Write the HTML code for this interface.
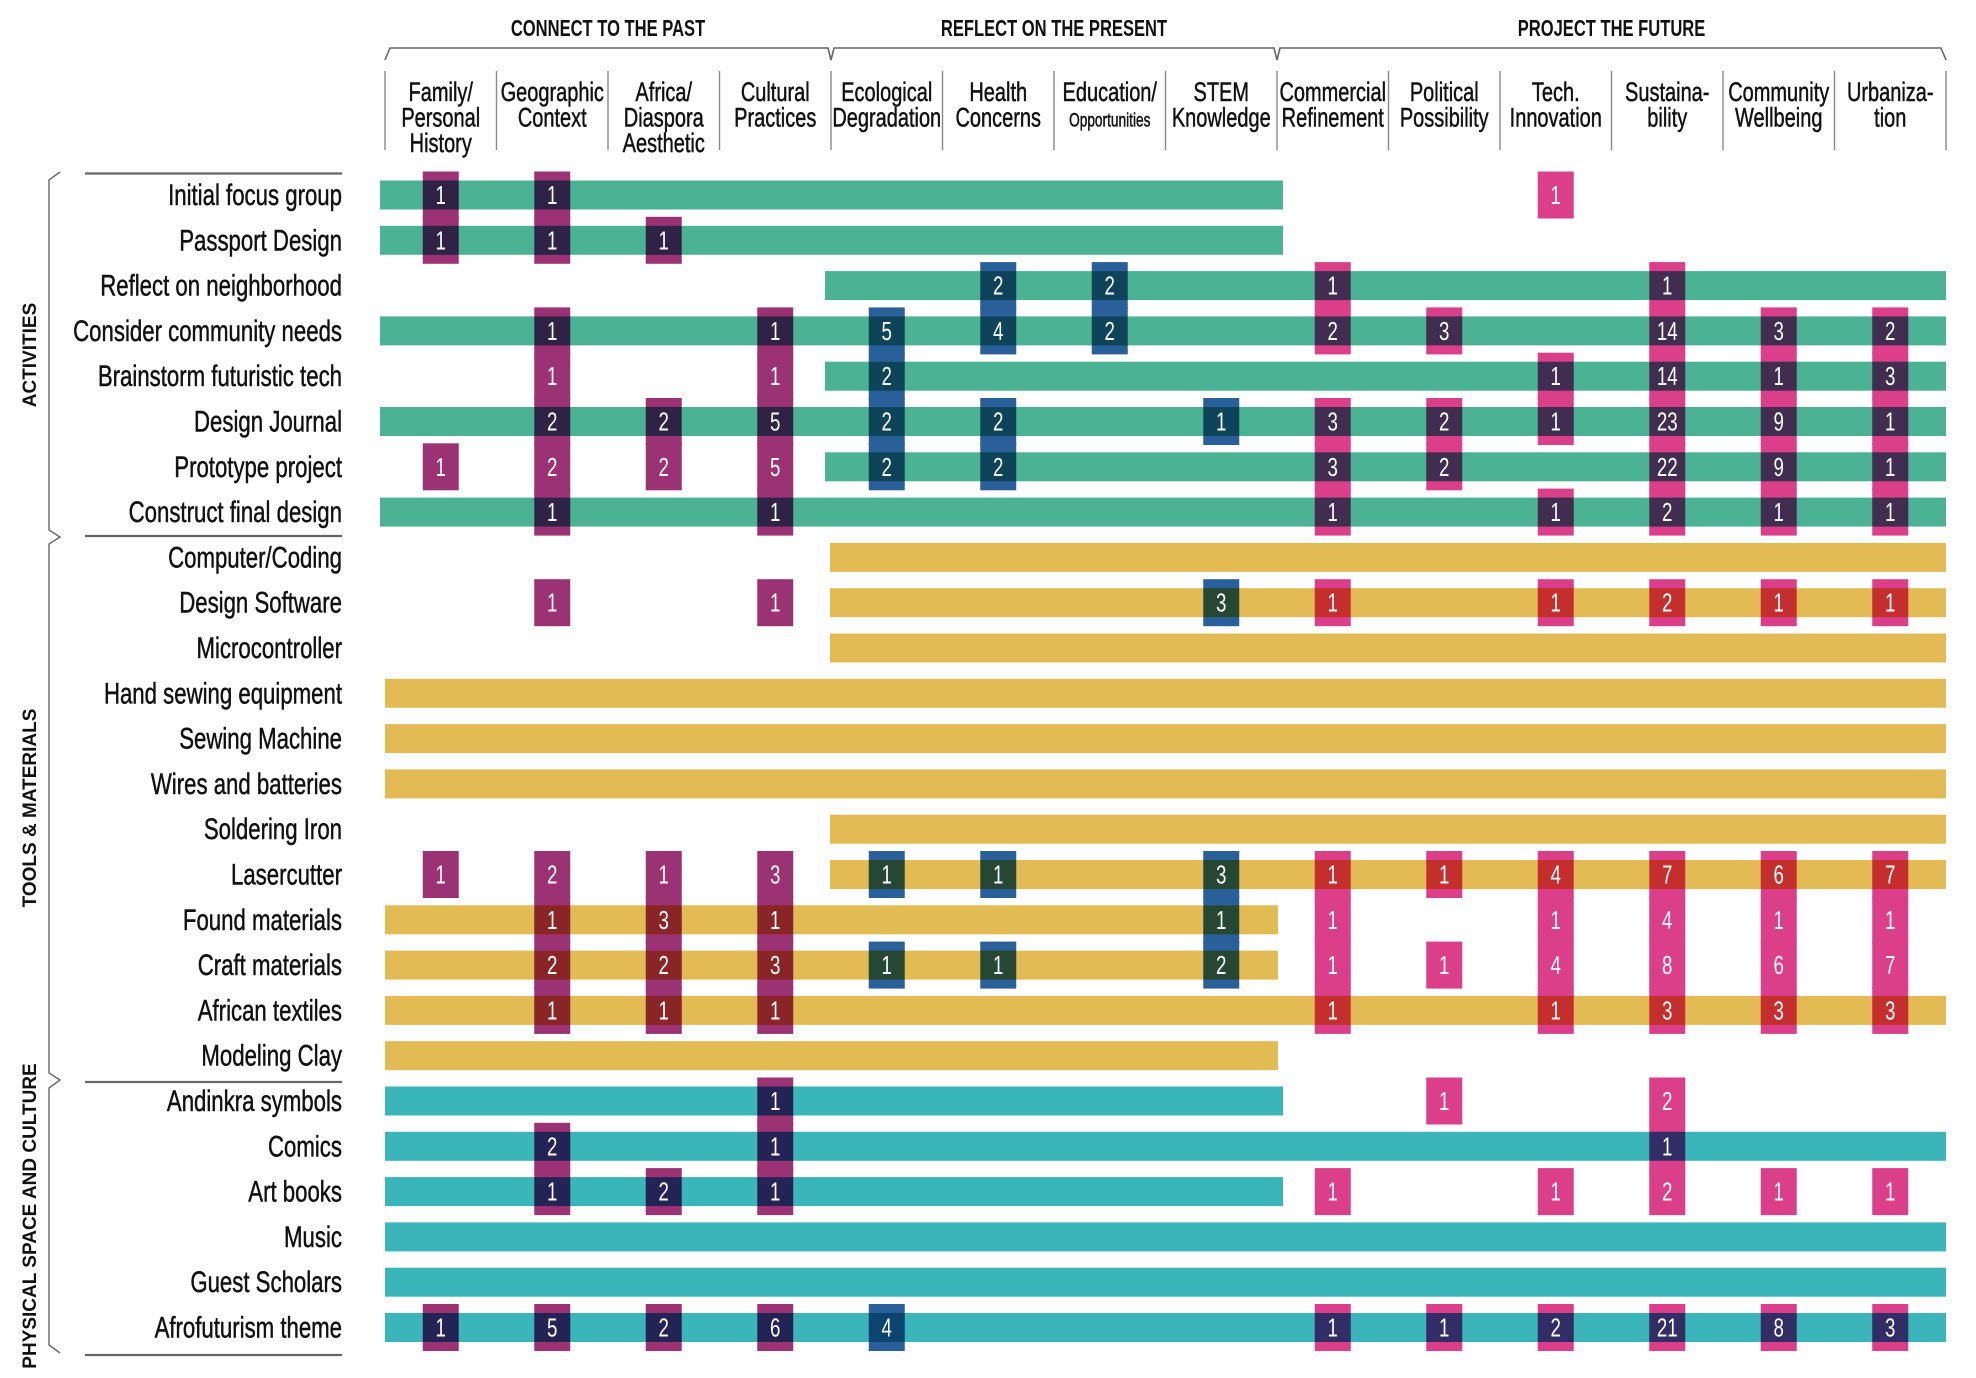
<!DOCTYPE html>
<html><head><meta charset="utf-8">
<style>
html,body{margin:0;padding:0;background:#fff;}
svg{display:block;}
text{font-family:"Liberation Sans Narrow","Liberation Sans",sans-serif;}
</style></head>
<body>
<svg id="chart" width="1976" height="1378" viewBox="0 0 1976 1378" xmlns="http://www.w3.org/2000/svg"></svg>
<script>
const columns = [["Family/","Personal","History"],["Geographic","Context"],["Africa/","Diaspora","Aesthetic"],["Cultural","Practices"],["Ecological","Degradation"],["Health","Concerns"],["Education/","Opportunities"],["STEM","Knowledge"],["Commercial","Refinement"],["Political","Possibility"],["Tech.","Innovation"],["Sustaina-","bility"],["Community","Wellbeing"],["Urbaniza-","tion"]];
const groups = [["CONNECT TO THE PAST",0,4],["REFLECT ON THE PRESENT",4,8],["PROJECT THE FUTURE",8,14]];
const rowLabels = ["Initial focus group","Passport Design","Reflect on neighborhood","Consider community needs","Brainstorm futuristic tech","Design Journal","Prototype project","Construct final design","Computer/Coding","Design Software","Microcontroller","Hand sewing equipment","Sewing Machine","Wires and batteries","Soldering Iron","Lasercutter","Found materials","Craft materials","African textiles","Modeling Clay","Andinkra symbols","Comics","Art books","Music","Guest Scholars","Afrofuturism theme"];
const rowCategory = [0,0,0,0,0,0,0,0,1,1,1,1,1,1,1,1,1,1,1,1,2,2,2,2,2,2];
const categoryNames = ["ACTIVITIES","TOOLS & MATERIALS","PHYSICAL SPACE AND CULTURE"];
const barStart = [0,0,4,0,4,0,4,0,4,4,4,0,0,0,4,4,0,0,0,0,0,0,0,0,0,0];
const barEnd =   [8,8,14,14,14,14,14,14,14,14,14,14,14,14,14,14,8,8,14,8,8,14,8,14,14,14];
const _ = null;
const values = [
 [1,1,_,_,_,_,_,_,_,_,1,_,_,_],
 [1,1,1,_,_,_,_,_,_,_,_,_,_,_],
 [_,_,_,_,_,2,2,_,1,_,_,1,_,_],
 [_,1,_,1,5,4,2,_,2,3,_,14,3,2],
 [_,1,_,1,2,_,_,_,_,_,1,14,1,3],
 [_,2,2,5,2,2,_,1,3,2,1,23,9,1],
 [1,2,2,5,2,2,_,_,3,2,_,22,9,1],
 [_,1,_,1,_,_,_,_,1,_,1,2,1,1],
 [_,_,_,_,_,_,_,_,_,_,_,_,_,_],
 [_,1,_,1,_,_,_,3,1,_,1,2,1,1],
 [_,_,_,_,_,_,_,_,_,_,_,_,_,_],
 [_,_,_,_,_,_,_,_,_,_,_,_,_,_],
 [_,_,_,_,_,_,_,_,_,_,_,_,_,_],
 [_,_,_,_,_,_,_,_,_,_,_,_,_,_],
 [_,_,_,_,_,_,_,_,_,_,_,_,_,_],
 [1,2,1,3,1,1,_,3,1,1,4,7,6,7],
 [_,1,3,1,_,_,_,1,1,_,1,4,1,1],
 [_,2,2,3,1,1,_,2,1,1,4,8,6,7],
 [_,1,1,1,_,_,_,_,1,_,1,3,3,3],
 [_,_,_,_,_,_,_,_,_,_,_,_,_,_],
 [_,_,_,1,_,_,_,_,_,1,_,2,_,_],
 [_,2,_,1,_,_,_,_,_,_,_,1,_,_],
 [_,1,2,1,_,_,_,_,1,_,1,2,1,1],
 [_,_,_,_,_,_,_,_,_,_,_,_,_,_],
 [_,_,_,_,_,_,_,_,_,_,_,_,_,_],
 [1,5,2,6,4,_,_,_,1,1,2,21,8,3]
];

const NS="http://www.w3.org/2000/svg";
const svg=document.getElementById('chart');
const X0=385, XR=1946, CW=(XR-X0)/14, Y0=195, RS=45.3;
const xB=i=>X0+i*CW;
const xC=i=>X0+i*CW+CW/2;
const yR=r=>Y0+r*RS;
const barColors=["#4bb394","#e3bb55","#3ab5b9"];
const boxColors=["#9b3274","#9b3274","#9b3274","#9b3274","#2a6099","#2a6099","#2a6099","#2a6099","#dc3f8a","#dc3f8a","#dc3f8a","#dc3f8a","#dc3f8a","#dc3f8a"];
function mk(tag,attrs,parent){const e=document.createElementNS(NS,tag);for(const k in attrs)e.setAttribute(k,attrs[k]);(parent||svg).appendChild(e);return e;}
function txt(x,y,sx,attrs,parent){attrs.x=0;attrs.y=0;attrs.transform=`translate(${x} ${y}) scale(${sx} 1)`;return mk('text',attrs,parent);}

groups.forEach((g,gi)=>{
  const t=txt((xB(g[1])+xB(g[2]))/2,36,0.72,{'text-anchor':'middle','font-size':23,'font-weight':'bold',fill:'#111'});
  t.textContent=g[0];
  
  
});
let d=`M${xB(0)} 60 L${xB(0)+5} 48`;
[4,8].forEach(i=>{d+=` L${xB(i)-3} 48 L${xB(i)} 60 L${xB(i)+3} 48`;});
d+=` L${xB(14)-5} 48 L${xB(14)} 60`;
const br=mk('path',{d:d,fill:'none',stroke:'#666','stroke-width':1.6});



for(let i=0;i<=14;i++){
  const l=mk('line',{x1:xB(i),x2:xB(i),y1:71,y2:150,stroke:'#888','stroke-width':1.4});
  
  
}
columns.forEach((c,i)=>{
  c.forEach((line,j)=>{
    const small=line==="Opportunities";
    const t=txt(xC(i),101+j*25.5,small?0.72:0.74,{'text-anchor':'middle','font-size':small?19:27,fill:'#111',stroke:'#111','stroke-width':0.5});
    t.textContent=line;
    
    
  });
});

rowLabels.forEach((lab,r)=>{
  const y=yR(r);
  const s=barStart[r], e=barEnd[r];
  const cat=rowCategory[r];
  const x1=xB(s)-(cat===0?5:0)-(s===4?1:0);
  const x2=e===14?XR:xB(e)+(cat===1?1:6);
  const b=mk('rect',{x:x1,y:y-14.5,width:x2-x1,height:29,fill:barColors[cat]});
  
  
  const t=txt(342,y+10,0.74,{'text-anchor':'end','font-size':30,fill:'#111',stroke:'#111','stroke-width':0.5});
  t.textContent=lab;
  
  
});

const boxG=mk('g',{style:'mix-blend-mode:multiply'});


values.forEach((row,r)=>{
  row.forEach((v,c)=>{
    if(v===null)return;
    const y=yR(r);
    const bx=mk('rect',{x:xC(c)-18,y:y-23.5,width:36,height:47,fill:boxColors[c]},boxG);
    
    
  });
});
values.forEach((row,r)=>{
  row.forEach((v,c)=>{
    if(v===null)return;
    const t=txt(xC(c),yR(r)+9,0.72,{'text-anchor':'middle','font-size':26,fill:'#fff'});
    t.textContent=v;
    
    
  });
});

const sepY=[173.5,536,1082,1355];
sepY.forEach(y=>{
  const l=mk('line',{x1:85,x2:342,y1:y,y2:y,stroke:'#666','stroke-width':2.2});
  
  
});
const bd=`M60 172 L49 180 L49 530 L60 537 L49 544 L49 1073 L60 1080 L49 1088 L49 1345 L60 1353`;
const cb=mk('path',{d:bd,fill:'none',stroke:'#666','stroke-width':1.4});


const catCenters=[355,808,1216];
categoryNames.forEach((n,i)=>{
  const t=mk('text',{x:0,y:0,transform:`translate(36 ${catCenters[i]}) rotate(-90)`,'text-anchor':'middle','font-size':19,'font-weight':'bold',fill:'#111',style:'font-family:"Liberation Sans",sans-serif'});
  t.textContent=n;
  
  
});
</script>
</body></html>
